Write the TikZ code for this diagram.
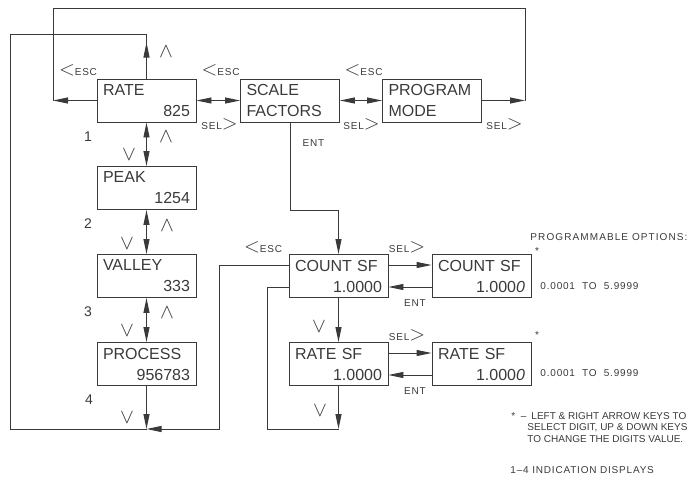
\documentclass[tikz,border=0pt]{standalone}
\usepackage{fontspec}
\setmainfont{Liberation Sans}
\newfontfamily\keyfont[LetterSpace=8]{Liberation Sans}
\usetikzlibrary{arrows.meta}
\definecolor{ink}{HTML}{3A3A3A}
\newcommand{\esckey}{{\fontsize{20}{20}\selectfont$<$}ESC}
\newcommand{\selkey}{SEL{\fontsize{20}{20}\selectfont$>$}}
\newcommand{\upkey}{{\fontsize{20}{20}\selectfont$\wedge$}}
\newcommand{\dnkey}{{\fontsize{20}{20}\selectfont$\vee$}}
\tikzset{>={Triangle[length=15pt,width=6pt]}, % long thin heads as on the chart
display/.style={draw, minimum width=99pt, minimum height=43pt, inner xsep=6pt, inner ysep=0pt,
  text width=87pt, align=left, font=\fontsize{16}{21}\selectfont}, % a two line meter display
keylbl/.style={font=\keyfont\fontsize{10}{12}\selectfont, inner sep=0pt}, % key names next to arrows
notelbl/.style={font=\fontsize{10}{12}\selectfont, inner sep=0pt, anchor=base west}, % footnotes
numlbl/.style={font=\fontsize{14}{14}\selectfont, inner sep=0pt}, % display numbers 1-4
}

\begin{document}
\begin{tikzpicture}[x=1pt, y=-1pt, line width=0.9pt, ink]
    \useasboundingbox (0,0) rectangle (692,479);
    % top row
    \node[display] (rate) at (146.5,100.5) {RATE\\\hfill 825};
    \node[display] (sf) at (290,100.5) {SCALE\\FACTORS};
    \node[display] (pm) at (432,100.5) {PROGRAM\\MODE};
    % indication displays
    \node[display] (peak) at (146.5,188) {PEAK\\\hfill 1254};
    \node[display] (valley) at (146.5,276) {VALLEY\\\hfill 333};
    \node[display] (process) at (146.5,364) {PROCESS\\\hfill 956783};
    % scale factors
    \node[display] (csf) at (338.5,276) {COUNT SF\\\hfill 1.0000};
    \node[display] (rsf) at (338.5,364) {RATE SF\\\hfill 1.0000};
    \node[display] (csfe) at (481.5,276) {COUNT SF\\\hfill 1.000\textit{0}};
    \node[display] (rsfe) at (481.5,364) {RATE SF\\\hfill 1.000\textit{0}};

    \coordinate (topl) at (53,8);
    \coordinate (topr) at (525,8);
    \coordinate (upl) at (10,34);
    \coordinate (downl) at (10,429);
    \coordinate (procdn) at (146.5,429);
    \coordinate (escdn) at (219,429);
    \coordinate (entbend) at (338.5,210);
    \coordinate (rsfdn) at (338.5,429);
    \coordinate (loopl) at (267.5,287);

    \draw[<->] (rate) -- (sf);
    \draw[<->] (sf) -- (pm);
    \draw[<->] (rate) -- (peak);
    \draw[<->] (peak) -- (valley);
    \draw[<->] (valley) -- (process);
    \draw[->] (csf) -- (rsf);
    % outer loops
    \draw[->] (rate.west) -- (rate.west -| topl);
    \draw (rate.west -| topl) -- (topl) -- (topr) -- (pm.east -| topr);
    \draw[->] (pm.east) -- (pm.east -| topr);
    \draw[->] (rate.north) -- ++(0,-36);
    \draw (rate.north) |- (upl) -- (downl) -- (procdn);
    \draw[->] (process) -- (procdn);
    \draw[->] ([yshift=11pt]csf.west) -| (escdn) -- (procdn);
    % enter scale factors
    \draw[->] (sf) |- (entbend) -- (csf);
    \draw[->] (rsf) -- (rsfdn);
    \draw (rsfdn) -| (loopl) -- ([yshift=-11pt]csf.west);
    % edit digits
    \draw[->] ([yshift=11pt]csf.east) -- ([yshift=11pt]csfe.west);
    \draw[->] ([yshift=-11pt]csfe.west) -- ([yshift=-11pt]csf.east);
    \draw[->] ([yshift=11pt]rsf.east) -- ([yshift=11pt]rsfe.west);
    \draw[->] ([yshift=-11pt]rsfe.west) -- ([yshift=-11pt]rsf.east);

    % key labels
    \node[keylbl] (esc1) at (78,70) {\esckey};
    \node[keylbl] (esc2) at (220.5,70) {\esckey};
    \node[keylbl] (esc3) at (363.5,70) {\esckey};
    \node[keylbl] (esc4) at (263,247) {\esckey};
    \node[keylbl] (sel1) at (219.5,124) {\selkey};
    \node[keylbl] (sel2) at (361.5,124) {\selkey};
    \node[keylbl] (sel3) at (504.5,124) {\selkey};
    \node[keylbl] (sel4) at (407,247) {\selkey};
    \node[keylbl] (sel5) at (407,335) {\selkey};
    \node[keylbl] (ent1) at (313.5,143) {ENT};
    \node[keylbl] (ent2) at (415,303) {ENT};
    \node[keylbl] (ent3) at (415,391) {ENT};
    \node[keylbl] (up0) at (166,52) {\upkey};
    \node[keylbl] (up1) at (166,137) {\upkey};
    \node[keylbl] (up2) at (167,226) {\upkey};
    \node[keylbl] (up3) at (167,313) {\upkey};
    \node[keylbl] (dn1) at (129,155) {\dnkey};
    \node[keylbl] (dn2) at (127,244) {\dnkey};
    \node[keylbl] (dn3) at (127,331) {\dnkey};
    \node[keylbl] (dn4) at (127,418) {\dnkey};
    \node[keylbl] (dn5) at (319,327) {\dnkey};
    \node[keylbl] (dn6) at (320,411) {\dnkey};
    \node[numlbl] (n1) at (88,137) {1};
    \node[numlbl] (n2) at (88,224) {2};
    \node[numlbl] (n3) at (88,312) {3};
    \node[numlbl] (n4) at (89,400) {4};

    % notes on the right
    \node[keylbl, anchor=base west, font=\keyfont\addfontfeature{LetterSpace=11}\fontsize{10}{12}\selectfont]
        (opts) at (530,240) {PROGRAMMABLE OPTIONS:};
    \node[keylbl] (star1) at (537,251) {*};
    \node[keylbl] (star2) at (537,335) {*};
    \node[keylbl, anchor=west] (range1) at (540,286) {0.0001 \ TO \ 5.9999};
    \node[keylbl, anchor=west] (range2) at (540,373.5) {0.0001 \ TO \ 5.9999};
    \node[notelbl] (note0) at (511,419) {*\ \ –};
    \node[notelbl] (note1) at (531,419) {LEFT \& RIGHT ARROW KEYS TO};
    \node[notelbl] (note2) at (527,430.5) {SELECT DIGIT, UP \& DOWN KEYS};
    \node[notelbl] (note3) at (527,442) {TO CHANGE THE DIGITS VALUE.};
    \node[keylbl, anchor=base west] (note4) at (510,473) {1–4 INDICATION DISPLAYS};
\end{tikzpicture}
\end{document}
